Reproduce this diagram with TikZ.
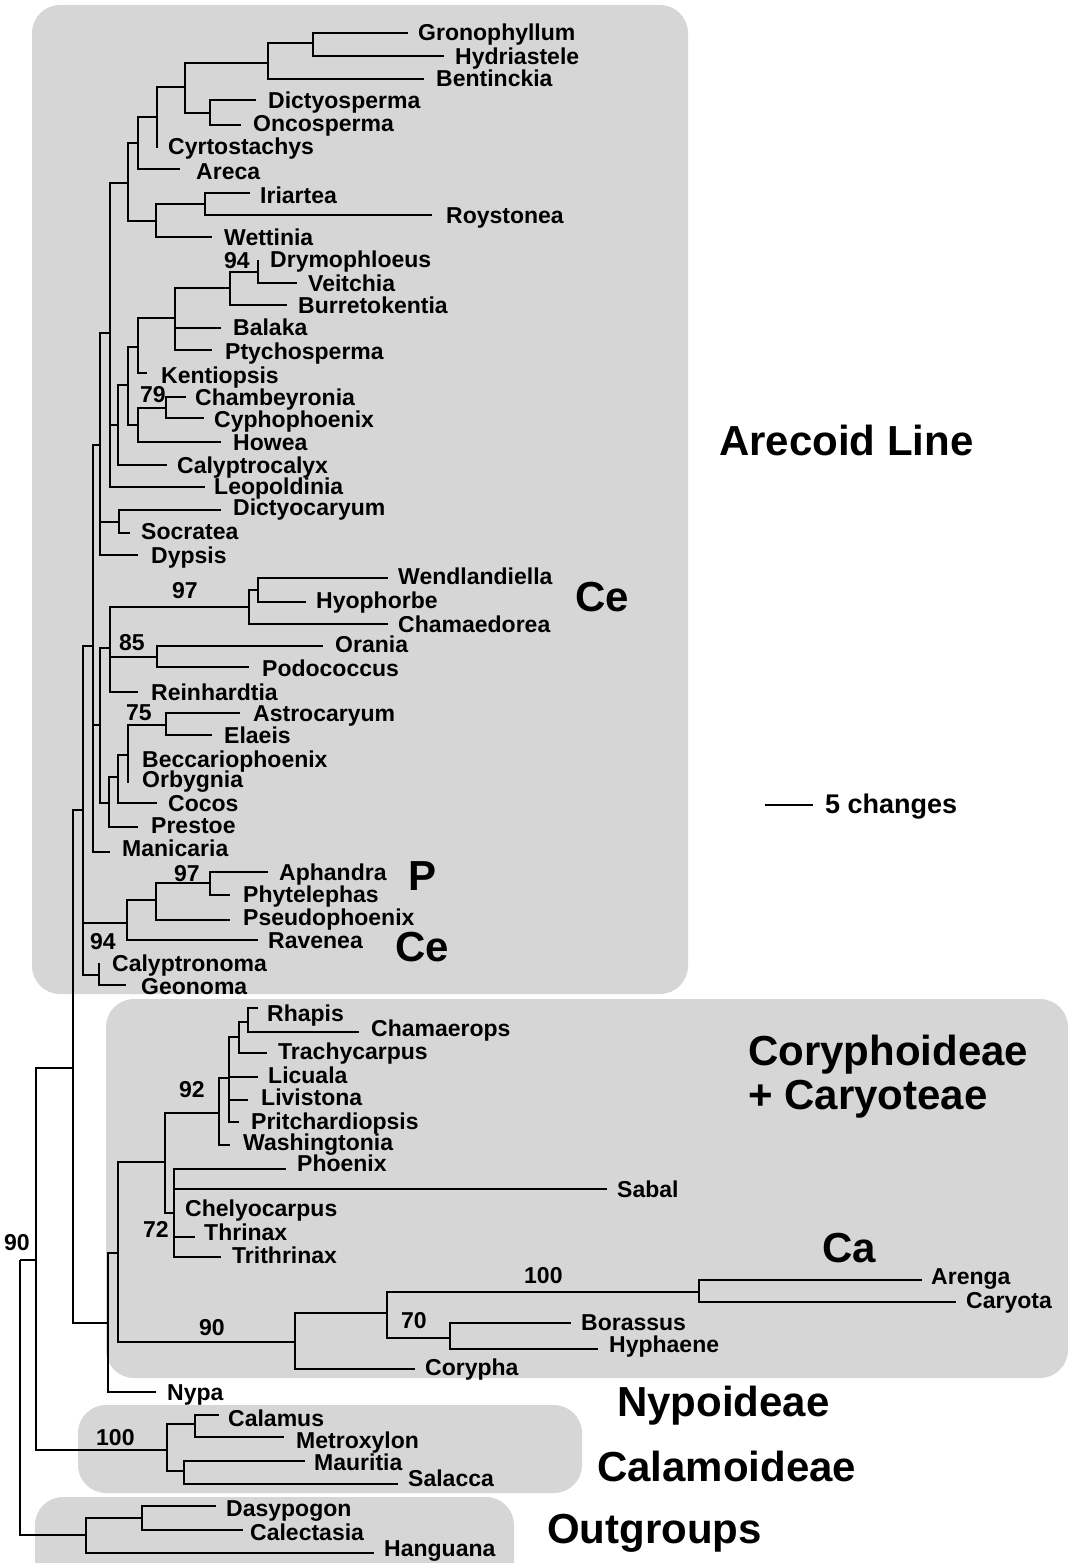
\documentclass[tikz,border=0pt]{standalone}
\usepackage{fontspec}
\setmainfont{Liberation Sans}
\definecolor{panel}{RGB}{214,214,214}
\begin{document}
\begin{tikzpicture}[x=1pt,y=-1pt,
  branch/.style={line width=2.8pt, line join=miter},
  tip/.style={anchor=west, inner sep=0pt, text height=16pt, text depth=0pt, font=\fontsize{23}{24}\selectfont\bfseries},
  boot/.style={tip},
  grp/.style={anchor=west, inner sep=0pt, text height=30pt, text depth=0pt, font=\fontsize{42}{44}\selectfont\bfseries},
  panelbox/.style={fill=panel, rounded corners=28pt}]
\useasboundingbox (0,0) rectangle (1075,1563);
\begin{scope}
\clip (0,0) rectangle (1075,1563);
\fill[panelbox] (32,5) rectangle (688,994);
\fill[panelbox] (106,999) rectangle (1068,1378);
\fill[panelbox] (78,1405) rectangle (582,1493);
\fill[panelbox] (35,1497) rectangle (514,1600);
\end{scope}

% internal nodes
\coordinate (root) at (20,1260);
\coordinate (n36) at (36,1260);
\coordinate (n73) at (73,1068);
\coordinate (n83) at (83,810);
\coordinate (n93) at (93,646);
\coordinate (n100u) at (100,445);
\coordinate (n110u) at (110,333);
\coordinate (n128u) at (128,183);
\coordinate (n138a) at (138,143);
\coordinate (n157) at (157,117);
\coordinate (n185) at (185,87);
\coordinate (n268) at (268,63);
\coordinate (n313) at (313,43);
\coordinate (n210d) at (210,113);
\coordinate (n156) at (156,221);
\coordinate (n205) at (205,204);
\coordinate (n118k) at (118,425);
\coordinate (n128k) at (128,385);
\coordinate (n138k) at (138,347);
\coordinate (n175) at (175,318);
\coordinate (n230) at (230,288);
\coordinate (n258) at (258,272);
\coordinate (n138h) at (138,425);
\coordinate (n166c) at (166,408);
\coordinate (n119) at (119,522);
\coordinate (n100l) at (100,725);
\coordinate (n110m) at (110,648);
\coordinate (n249) at (249,607);
\coordinate (n258w) at (258,590);
\coordinate (n157o) at (157,657);
\coordinate (n109) at (109,803);
\coordinate (n118c) at (118,777);
\coordinate (n128b) at (128,755);
\coordinate (n166a) at (166,725);
\coordinate (n127) at (127,923);
\coordinate (n156p) at (156,900);
\coordinate (n210a) at (210,883);
\coordinate (n99) at (99,975);
\coordinate (n108) at (108,1323);
\coordinate (n118r) at (118,1253);
\coordinate (n165) at (165,1162);
\coordinate (n219) at (219,1113);
\coordinate (n229) at (229,1078);
\coordinate (n239) at (239,1037);
\coordinate (n248) at (248,1022);
\coordinate (n174) at (174,1213);
\coordinate (n295) at (295,1342);
\coordinate (n387) at (387,1313);
\coordinate (n699) at (699,1292);
\coordinate (n450) at (450,1338);
\coordinate (ncal) at (167,1450);
\coordinate (n195) at (195,1424);
\coordinate (n184) at (184,1471);
\coordinate (nog) at (86,1535);
\coordinate (n142) at (142,1518);

% tips (branch ends)
\coordinate (gron) at (408,33);
\coordinate (hydr) at (444,56);
\coordinate (bent) at (424,79);
\coordinate (dict) at (256,100);
\coordinate (onco) at (241,125);
\coordinate (cyrt) at (157,148);
\coordinate (arec) at (180,169);
\coordinate (iria) at (250,193);
\coordinate (roys) at (432,215);
\coordinate (wett) at (212,237);
\coordinate (drym) at (258,260);
\coordinate (veit) at (297,283);
\coordinate (burr) at (287,305);
\coordinate (bala) at (221,328);
\coordinate (ptyc) at (212,350);
\coordinate (kent) at (147,373);
\coordinate (cham) at (186,397);
\coordinate (cyph) at (204,418);
\coordinate (howe) at (221,442);
\coordinate (caly) at (167,465);
\coordinate (leop) at (205,487);
\coordinate (dicy) at (221,510);
\coordinate (socr) at (130,533);
\coordinate (dyps) at (138,555);
\coordinate (wend) at (388,578);
\coordinate (hyop) at (306,602);
\coordinate (chmd) at (388,624);
\coordinate (oran) at (323,646);
\coordinate (podo) at (249,667);
\coordinate (rein) at (138,692);
\coordinate (astr) at (240,713);
\coordinate (elae) at (212,735);
\coordinate (becc) at (128,758);
\coordinate (orby) at (128,783);
\coordinate (coco) at (157,803);
\coordinate (pres) at (138,827);
\coordinate (mani) at (110,852);
\coordinate (apha) at (268,872);
\coordinate (phyt) at (230,895);
\coordinate (pseu) at (230,920);
\coordinate (rave) at (258,940);
\coordinate (calp) at (99,963);
\coordinate (geon) at (126,985);
\coordinate (rhap) at (258,1008);
\coordinate (chmr) at (359,1032);
\coordinate (trac) at (267,1053);
\coordinate (licu) at (258,1077);
\coordinate (livi) at (248,1100);
\coordinate (prit) at (239,1122);
\coordinate (wash) at (230,1145);
\coordinate (phoe) at (286,1169);
\coordinate (saba) at (607,1189);
\coordinate (chel) at (174,1208);
\coordinate (thri) at (195,1237);
\coordinate (trit) at (221,1257);
\coordinate (aren) at (922,1280);
\coordinate (cary) at (956,1302);
\coordinate (bora) at (571,1323);
\coordinate (hyph) at (598,1349);
\coordinate (cory) at (415,1369);
\coordinate (nypa) at (156,1392);
\coordinate (cala) at (219,1415);
\coordinate (metr) at (284,1437);
\coordinate (maur) at (305,1461);
\coordinate (sala) at (398,1484);
\coordinate (dasy) at (216,1506);
\coordinate (cale) at (243,1530);
\coordinate (hang) at (374,1553);

% branches
\draw[branch]
 (root) |- (n36) (root) |- (nog)
 (n36) |- (n73) (n36) |- (ncal)
 (n73) |- (n83) (n73) |- (n108)
 (n83) |- (n93) (n83) |- (n127) (n83) |- (n99)
 (n93) |- (n100u) (n93) |- (n100l) (n93) |- (mani)
 (n100u) |- (n110u) (n100u) |- (n119) (n100u) |- (dyps)
 (n110u) |- (n128u) (n110u) |- (n118k) (n110u) |- (leop)
 (n128u) |- (n138a) (n128u) |- (n156)
 (n138a) |- (n157) (n138a) |- (arec)
 (n157) |- (n185) (n157) |- (cyrt)
 (n185) |- (n268) (n185) |- (n210d)
 (n268) |- (n313) (n268) |- (bent)
 (n313) |- (gron) (n313) |- (hydr)
 (n210d) |- (dict) (n210d) |- (onco)
 (n156) |- (n205) (n156) |- (wett)
 (n205) |- (iria) (n205) |- (roys)
 (n118k) |- (n128k) (n118k) |- (caly)
 (n128k) |- (n138k) (n128k) |- (n138h)
 (n138k) |- (n175) (n138k) |- (kent)
 (n175) |- (n230) (n175) |- (bala) (n175) |- (ptyc)
 (n230) |- (n258) (n230) |- (burr)
 (n258) |- (drym) (n258) |- (veit)
 (n138h) |- (n166c) (n138h) |- (howe)
 (n166c) |- (cham) (n166c) |- (cyph)
 (n119) |- (dicy) (n119) |- (socr)
 (n100l) |- (n110m) (n100l) |- (n109)
 (n110m) |- (n249) (n110m) |- (n157o) (n110m) |- (rein)
 (n249) |- (n258w) (n249) |- (chmd)
 (n258w) |- (wend) (n258w) |- (hyop)
 (n157o) |- (oran) (n157o) |- (podo)
 (n109) |- (n118c) (n109) |- (pres)
 (n118c) |- (n128b) (n118c) |- (coco)
 (n128b) |- (n166a) (n128b) |- (becc) (n128b) |- (orby)
 (n166a) |- (astr) (n166a) |- (elae)
 (n127) |- (n156p) (n127) |- (rave)
 (n156p) |- (n210a) (n156p) |- (pseu)
 (n210a) |- (apha) (n210a) |- (phyt)
 (n99) |- (calp) (n99) |- (geon)
 (n108) |- (n118r) (n108) |- (nypa)
 (n118r) |- (n165) (n118r) |- (n295)
 (n165) |- (n219) (n165) |- (n174)
 (n219) |- (n229) (n219) |- (wash)
 (n229) |- (n239) (n229) |- (licu) (n229) |- (livi) (n229) |- (prit)
 (n239) |- (n248) (n239) |- (trac)
 (n248) |- (rhap) (n248) |- (chmr)
 (n174) |- (phoe) (n174) |- (saba) (n174) |- (chel) (n174) |- (thri) (n174) |- (trit)
 (n295) |- (n387) (n295) |- (cory)
 (n387) |- (n699) (n387) |- (n450)
 (n699) |- (aren) (n699) |- (cary)
 (n450) |- (bora) (n450) |- (hyph)
 (ncal) |- (n195) (ncal) |- (n184)
 (n195) |- (cala) (n195) |- (metr)
 (n184) |- (maur) (n184) |- (sala)
 (nog) |- (n142) (nog) |- (hang)
 (n142) |- (dasy) (n142) |- (cale);

% tip labels
\node[tip] (Lgron) at (418,33) {Gronophyllum};
\node[tip] (Lhydr) at (455,56) {Hydriastele};
\node[tip] (Lbent) at (436,78) {Bentinckia};
\node[tip] (Ldict) at (268,100) {Dictyosperma};
\node[tip] (Lonco) at (253,123) {Oncosperma};
\node[tip] (Lcyrt) at (168,146) {Cyrtostachys};
\node[tip] (Larec) at (196,171) {Areca};
\node[tip] (Liria) at (260,195) {Iriartea};
\node[tip] (Lroys) at (446,215) {Roystonea};
\node[tip] (Lwett) at (224,237) {Wettinia};
\node[boot] (b94a) at (224,260) {94};
\node[tip] (Ldrym) at (270,259) {Drymophloeus};
\node[tip] (Lveit) at (308,283) {Veitchia};
\node[tip] (Lburr) at (298,305) {Burretokentia};
\node[tip] (Lbala) at (233,327) {Balaka};
\node[tip] (Lptyc) at (225,351) {Ptychosperma};
\node[tip] (Lkent) at (161,375) {Kentiopsis};
\node[boot] (b79) at (140,394) {79};
\node[tip] (Lcham) at (195,397) {Chambeyronia};
\node[tip] (Lcyph) at (214,419) {Cyphophoenix};
\node[tip] (Lhowe) at (233,442) {Howea};
\node[tip] (Lcaly) at (177,465) {Calyptrocalyx};
\node[tip] (Lleop) at (214,486) {Leopoldinia};
\node[tip] (Ldicy) at (233,507) {Dictyocaryum};
\node[tip] (Lsocr) at (141,531) {Socratea};
\node[tip] (Ldyps) at (151,555) {Dypsis};
\node[boot] (b97a) at (172,590) {97};
\node[tip] (Lwend) at (398,576) {Wendlandiella};
\node[tip] (Lhyop) at (316,600) {Hyophorbe};
\node[tip] (Lchmd) at (398,624) {Chamaedorea};
\node[boot] (b85) at (119,642) {85};
\node[tip] (Loran) at (335,644) {Orania};
\node[tip] (Lpodo) at (262,668) {Podococcus};
\node[tip] (Lrein) at (151,692) {Reinhardtia};
\node[boot] (b75) at (126,712) {75};
\node[tip] (Lastr) at (253,713) {Astrocaryum};
\node[tip] (Lelae) at (224,735) {Elaeis};
\node[tip] (Lbecc) at (142,759) {Beccariophoenix};
\node[tip] (Lorby) at (142,779) {Orbygnia};
\node[tip] (Lcoco) at (168,803) {Cocos};
\node[tip] (Lpres) at (151,825) {Prestoe};
\node[tip] (Lmani) at (122,848) {Manicaria};
\node[boot] (b97b) at (174,873) {97};
\node[tip] (Lapha) at (279,872) {Aphandra};
\node[tip] (Lphyt) at (243,894) {Phytelephas};
\node[tip] (Lpseu) at (243,917) {Pseudophoenix};
\node[tip] (Lrave) at (268,940) {Ravenea};
\node[boot] (b94b) at (90,941) {94};
\node[tip] (Lcalp) at (112,963) {Calyptronoma};
\node[tip] (Lgeon) at (141,986) {Geonoma};

\node[tip] (Lrhap) at (267,1013) {Rhapis};
\node[tip] (Lchmr) at (371,1028) {Chamaerops};
\node[tip] (Ltrac) at (278,1051) {Trachycarpus};
\node[tip] (Llicu) at (268,1075) {Licuala};
\node[tip] (Llivi) at (261,1097) {Livistona};
\node[tip] (Lprit) at (251,1121) {Pritchardiopsis};
\node[tip] (Lwash) at (243,1142) {Washingtonia};
\node[boot] (b92) at (179,1089) {92};
\node[tip] (Lphoe) at (297,1163) {Phoenix};
\node[tip] (Lsaba) at (617,1189) {Sabal};
\node[tip] (Lchel) at (185,1208) {Chelyocarpus};
\node[boot] (b72) at (143,1229) {72};
\node[tip] (Lthri) at (204,1232) {Thrinax};
\node[tip] (Ltrit) at (232,1255) {Trithrinax};
\node[boot] (b100a) at (524,1275) {100};
\node[tip] (Laren) at (931,1276) {Arenga};
\node[tip] (Lcary) at (966,1300) {Caryota};
\node[boot] (b70) at (401,1320) {70};
\node[tip] (Lbora) at (581,1322) {Borassus};
\node[boot] (b90a) at (199,1327) {90};
\node[tip] (Lhyph) at (609,1344) {Hyphaene};
\node[tip] (Lcory) at (425,1367) {Corypha};
\node[tip] (Lnypa) at (167,1392) {Nypa};
\node[tip] (Lcala) at (228,1418) {Calamus};
\node[boot] (b100b) at (96,1437) {100};
\node[tip] (Lmetr) at (296,1440) {Metroxylon};
\node[tip] (Lmaur) at (314,1462) {Mauritia};
\node[tip] (Lsala) at (408,1478) {Salacca};
\node[tip] (Ldasy) at (226,1508) {Dasypogon};
\node[tip] (Lcale) at (250,1532) {Calectasia};
\node[tip] (Lhang) at (384,1548) {Hanguana};
\node[boot] (b90b) at (4,1242) {90};

% group labels
\node[grp] (gAre) at (719,440) {Arecoid Line};
\node[grp] (gCe1) at (575,596) {Ce};
\node[grp] (gP) at (408,875) {P};
\node[grp] (gCe2) at (395,946) {Ce};
\node[grp] (gCor) at (748,1050) {Coryphoideae};
\node[grp] (gCar) at (748,1094) {+ Caryoteae};
\node[grp] (gCa) at (822,1247) {Ca};
\node[grp] (gNyp) at (617,1401) {Nypoideae};
\node[grp] (gCal) at (597,1466) {Calamoideae};
\node[grp] (gOut) at (547,1528) {Outgroups};

% scale bar
\coordinate (sb1) at (765,805);
\coordinate (sb2) at (813,805);
\draw[line width=2.2pt] (sb1) -- (sb2);
\node[tip, font=\fontsize{27}{28}\selectfont\bfseries] (Lsb) at (825,805) {5 changes};
\end{tikzpicture}
\end{document}
